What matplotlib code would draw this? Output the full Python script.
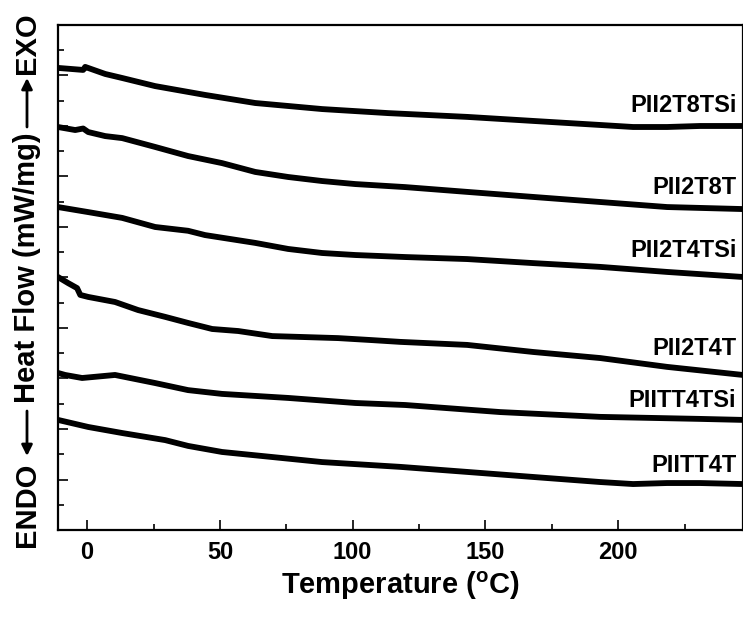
import numpy as np
import matplotlib
matplotlib.use("Agg")
import matplotlib.pyplot as plt
from matplotlib.ticker import MultipleLocator

plt.rcParams['font.family'] = ['Liberation Sans', 'DejaVu Sans']
plt.rcParams['font.weight'] = 'bold'
plt.rcParams['mathtext.fontset'] = 'custom'
plt.rcParams['mathtext.bf'] = 'Liberation Sans:bold'

# DSC traces (temperature in C, heat flow in stacked arbitrary units)
t_8tsi = [-11, -1.5, -0.75, 6.8, 13.2, 25.6, 44.4, 63.3, 88.5, 113.4, 143.1, 168, 193.2, 205.6, 218.4, 230.8, 247]
h_8tsi = [18.30, 18.22, 18.34, 18.06, 17.90, 17.58, 17.23, 16.91, 16.67, 16.51, 16.36, 16.20, 16.04, 15.96, 15.96, 16.00, 16.00]

t_8t = [-11, -4.5, -1.5, 0.4, 6.8, 13.2, 25.6, 38, 50.8, 63.3, 75.7, 88.5, 101, 119.8, 143.1, 168, 193.2, 218.4, 247]
h_8t = [15.96, 15.84, 15.90, 15.76, 15.60, 15.52, 15.17, 14.81, 14.53, 14.18, 13.98, 13.82, 13.70, 13.58, 13.39, 13.19, 12.99, 12.79, 12.71]

t_4tsi = [-11, 0.4, 13.2, 25.6, 38, 44.4, 63.3, 75.7, 88.5, 101, 119.8, 143.1, 168, 193.2, 218.4, 247]
h_4tsi = [12.79, 12.59, 12.36, 12.00, 11.85, 11.68, 11.37, 11.13, 10.97, 10.89, 10.81, 10.73, 10.57, 10.42, 10.22, 10.02]

t_4t = [-11, -7.2, -3.8, -2.6, 0.4, 10.5, 19.2, 29.4, 38, 47.1, 56.9, 69.7, 82.1, 94.5, 107.3, 117.9, 143.1, 168, 193.2, 218.4, 247]
h_4t = [10.02, 9.78, 9.58, 9.31, 9.23, 9.03, 8.71, 8.44, 8.20, 7.96, 7.88, 7.68, 7.64, 7.60, 7.52, 7.45, 7.33, 7.05, 6.81, 6.46, 6.14]

t_tt4tsi = [-11, -8.3, -1.9, 10.5, 25.6, 38, 50.8, 75.7, 101, 119.8, 155.6, 193.2, 230.8, 247]
h_tt4tsi = [6.22, 6.14, 6.02, 6.14, 5.82, 5.54, 5.39, 5.23, 5.03, 4.95, 4.67, 4.48, 4.40, 4.36]

t_tt4t = [-11, 0.4, 13.2, 29.4, 38, 50.8, 69.7, 88.5, 117.9, 143.1, 168, 193.2, 205.6, 218.4, 230.8, 247]
h_tt4t = [4.36, 4.08, 3.84, 3.56, 3.33, 3.09, 2.89, 2.69, 2.50, 2.30, 2.10, 1.90, 1.82, 1.86, 1.86, 1.82]

names = ['PII2T8TSi', 'PII2T8T', 'PII2T4TSi', 'PII2T4T', 'PIITT4TSi', 'PIITT4T']
label_y = [16.83, 13.58, 11.05, 7.17, 5.11, 2.57]

temps = [t_8tsi, t_8t, t_4tsi, t_4t, t_tt4tsi, t_tt4t]
flows = [h_8tsi, h_8t, h_4tsi, h_4t, h_tt4tsi, h_tt4t]

fig = plt.figure(figsize=(7.43, 6.17), dpi=100)
ax = fig.add_axes([0.078, 0.141, 0.922, 0.8185])

for t, h in zip(temps, flows):
    ax.plot(t, h, color='black', lw=4.2, solid_capstyle='round', solid_joinstyle='round')

for name, yl in zip(names, label_y):
    ax.text(244.5, yl, name, ha='right', va='center', fontsize=17, fontweight='bold')

ax.set_xlim(-11, 247)
ax.set_ylim(0, 20)
ax.xaxis.set_major_locator(MultipleLocator(50))
ax.xaxis.set_minor_locator(MultipleLocator(25))
ax.yaxis.set_major_locator(MultipleLocator(2))
ax.yaxis.set_minor_locator(MultipleLocator(1))
ax.tick_params(which='both', direction='in', top=False, right=False, width=1.2)
ax.tick_params(which='major', length=7.5, labelsize=17, pad=8)
ax.tick_params(which='minor', length=4)
ax.tick_params(axis='y', labelleft=False)
for lab in ax.get_xticklabels():
    lab.set_fontweight('bold')
for s in ax.spines.values():
    s.set_linewidth(1.6)

ax.set_xlabel('Temperature ($\\mathbf{^{o}}$C)', fontsize=21, fontweight='bold', labelpad=4)

# y label: ENDO <-- Heat Flow (mW/mg) --> EXO
H = 617.0
xc = 27 / 743.0
fig.text(xc, 1 - 505 / H, 'ENDO', rotation=90, ha='center', va='center', fontsize=21, fontweight='bold')
fig.text(xc, 1 - 267.5 / H, 'Heat Flow (mW/mg)', rotation=90, ha='center', va='center', fontsize=21, fontweight='bold')
fig.text(xc, 1 - 43 / H, 'EXO', rotation=90, ha='center', va='center', fontsize=21, fontweight='bold')
arrow = dict(arrowstyle='-|>', color='black', lw=2, mutation_scale=16, shrinkA=0, shrinkB=0)
ax.annotate('', xy=(xc, 1 - 456 / H), xytext=(xc, 1 - 411 / H), xycoords='figure fraction', textcoords='figure fraction', arrowprops=arrow)
ax.annotate('', xy=(xc, 1 - 78 / H), xytext=(xc, 1 - 127 / H), xycoords='figure fraction', textcoords='figure fraction', arrowprops=arrow)

fig.savefig('out.png', dpi=100)
